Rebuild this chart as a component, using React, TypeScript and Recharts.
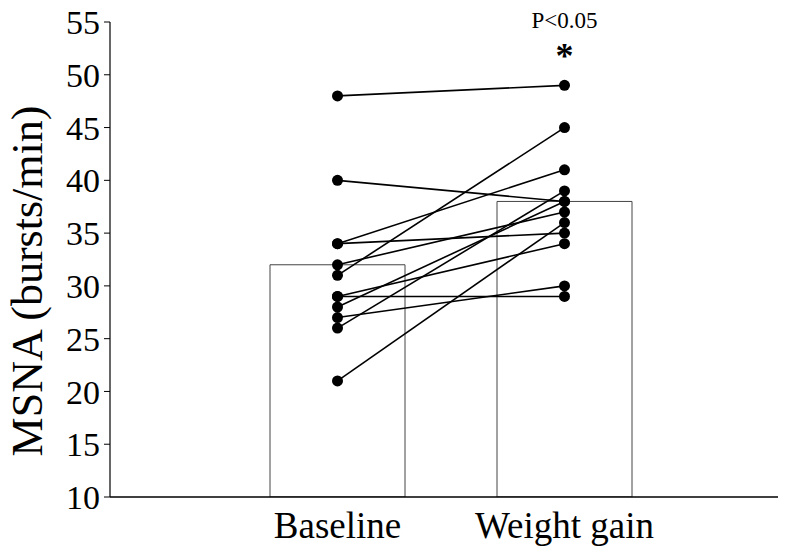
import React from "react";
import {
  Bar,
  ComposedChart,
  Line,
  ReferenceDot,
  XAxis,
  YAxis,
} from "recharts";

const categories = ["Baseline", "Weight gain"];
const meanValues = [32, 38];
const baselineValues = [48, 40, 34, 34, 32, 31, 29, 29, 28, 27, 26, 21];
const weightGainValues = [49, 38, 41, 35, 37, 45, 29, 34, 38, 30, 39, 36];
const yTicks = [10, 15, 20, 25, 30, 35, 40, 45, 50, 55];

const serif = "'Liberation Serif', 'Times New Roman', serif";

const rows = categories.map((name, i) => {
  const row: Record<string, string | number> = { name, mean: meanValues[i] };
  baselineValues.forEach((b, k) => {
    row["s" + k] = i === 0 ? b : weightGainValues[k];
  });
  return row;
});

export default function App() {
  return (
    <div style={{ position: "absolute", left: 0, top: 0, background: "#fff" }}>
      <ComposedChart
        width={800}
        height={556}
        data={rows}
        margin={{ top: 22, right: 22, bottom: 0, left: 0 }}
      >
        <XAxis
          dataKey="name"
          height={59}
          padding={{ left: 114, right: 100 }}
          axisLine={{ stroke: "#000", strokeWidth: 1.5 }}
          tickLine={false}
          tick={{ fill: "#000", fontSize: 37, fontFamily: serif }}
          tickMargin={9}
        />
        <YAxis
          width={110}
          domain={[10, 55]}
          ticks={yTicks}
          interval={0}
          allowDataOverflow
          axisLine={{ stroke: "#000", strokeWidth: 1.2 }}
          tickLine={{ stroke: "#000" }}
          tickSize={6}
          tickMargin={4}
          tick={{ fill: "#000", fontSize: 34, fontFamily: serif }}
          label={{
            content: () => (
              <text
                x={27}
                y={281}
                transform="rotate(-90 27 281)"
                textAnchor="middle"
                dominantBaseline="central"
                fontSize={44}
                fontFamily={serif}
                fill="#000"
              >
                MSNA (bursts/min)
              </text>
            ),
          }}
        />
        <Bar
          dataKey="mean"
          barSize={135}
          fill="#fff"
          stroke="#444"
          strokeWidth={1}
          isAnimationActive={false}
        />
        {baselineValues.map((_, k) => (
          <Line
            key={k}
            dataKey={"s" + k}
            stroke="#000"
            strokeWidth={1.6}
            dot={{ r: 5.5, fill: "#000", stroke: "#000", strokeWidth: 0 }}
            activeDot={false}
            isAnimationActive={false}
          />
        ))}
        <ReferenceDot
          x="Weight gain"
          y={55.2}
          r={0}
          ifOverflow="visible"
          label={{
            value: "P<0.05",
            position: "center",
            fontSize: 23,
            fontFamily: serif,
            fill: "#000",
          }}
        />
        <ReferenceDot
          x="Weight gain"
          y={51.9}
          r={0}
          ifOverflow="visible"
          label={{
            value: "*",
            position: "center",
            fontSize: 36,
            fontWeight: "bold",
            fontFamily: serif,
            fill: "#000",
          }}
        />
      </ComposedChart>
    </div>
  );
}
